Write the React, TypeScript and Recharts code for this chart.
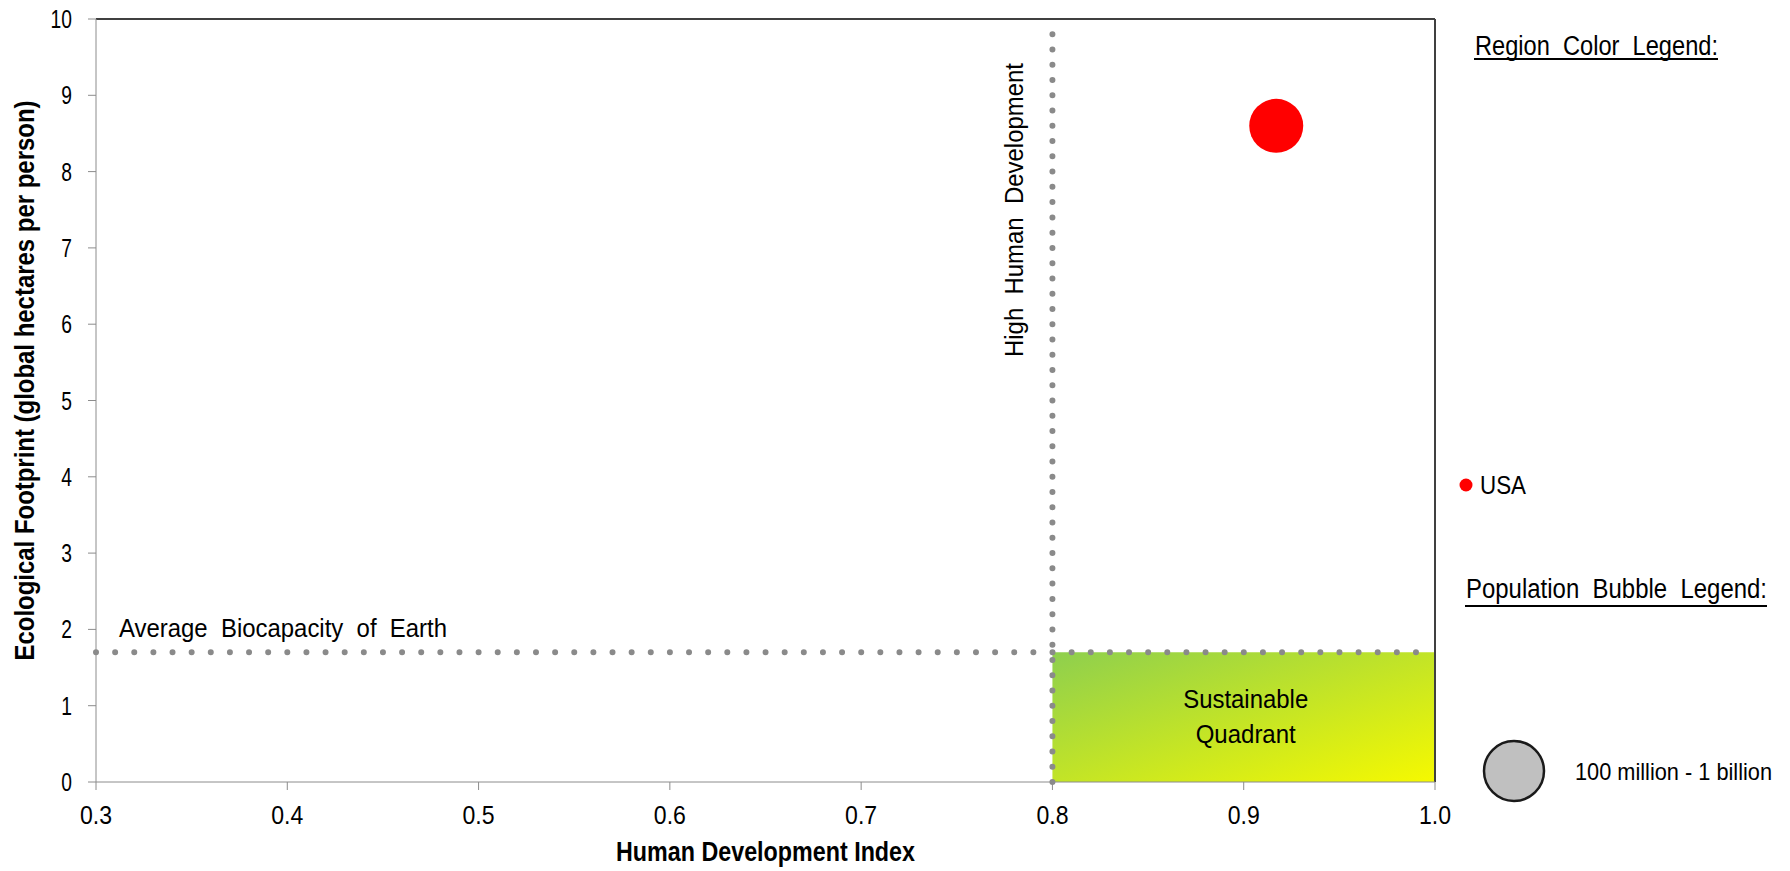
import React from 'react';
import {
  ScatterChart,
  Scatter,
  XAxis,
  YAxis,
  ZAxis,
  Cell,
  Label,
  ReferenceLine,
  ReferenceArea,
} from 'recharts';

// data
const regions = ['USA'];
const hdi = [0.917];
const footprint = [8.6];
const population = [0.31]; // billions
const regionColors = ['#ff0000'];

const xTicks = [0.3, 0.4, 0.5, 0.6, 0.7, 0.8, 0.9, 1.0];
const yTicks = [0, 1, 2, 3, 4, 5, 6, 7, 8, 9, 10];
const highDevelopment = 0.8;
const biocapacity = 1.7;
const xMax = 1.0;
const yMax = 10;

// no narrow font installed, so text is squeezed with textLength
const FONT = '"Liberation Sans", Arial, sans-serif';
const GRID = '#8c8c8c';
const BORDER = '#404040';
const DOTS = '#8a8a8a';
const SQUEEZE = 'spacingAndGlyphs';

const points = regions.map((name, i) => ({
  name,
  x: hdi[i],
  y: footprint[i],
  z: population[i],
}));

const YTitle = ({ viewBox }: any) => {
  const cx = viewBox.x + 25;
  const cy = viewBox.y + viewBox.height / 2 - 20;
  return (
    <text
      x={cx}
      y={cy}
      transform={`rotate(-90, ${cx}, ${cy})`}
      textAnchor="middle"
      dominantBaseline="central"
      fontFamily={FONT}
      fontWeight="bold"
      fontSize={27}
      textLength={560}
      lengthAdjust={SQUEEZE}
      fill="#000"
    >
      Ecological Footprint (global hectares per person)
    </text>
  );
};

const XTitle = ({ viewBox }: any) => (
  <text
    x={viewBox.x + viewBox.width / 2}
    y={viewBox.y + 70}
    textAnchor="middle"
    dominantBaseline="central"
    fontFamily={FONT}
    fontWeight="bold"
    fontSize={27}
    textLength={299}
    lengthAdjust={SQUEEZE}
    fill="#000"
  >
    Human Development Index
  </text>
);

const HighDevLabel = ({ viewBox }: any) => {
  const x = viewBox.x - 38;
  const y = viewBox.y + 44;
  return (
    <text
      x={x}
      y={y}
      transform={`rotate(-90, ${x}, ${y})`}
      textAnchor="end"
      dominantBaseline="central"
      fontFamily={FONT}
      fontSize={26}
      textLength={294}
      lengthAdjust={SQUEEZE}
      style={{ whiteSpace: 'pre' }}
      fill="#000"
    >
      High  Human  Development
    </text>
  );
};

const BiocapLabel = ({ viewBox }: any) => (
  <text
    x={viewBox.x + 23}
    y={viewBox.y - 24}
    dominantBaseline="central"
    fontFamily={FONT}
    fontSize={26}
    textLength={328}
    lengthAdjust={SQUEEZE}
    style={{ whiteSpace: 'pre' }}
    fill="#000"
  >
    Average  Biocapacity  of  Earth
  </text>
);

const QuadrantLabel = ({ viewBox }: any) => {
  const cx = viewBox.x + viewBox.width / 2 + 2;
  const cy = viewBox.y + viewBox.height / 2;
  return (
    <g fontFamily={FONT} fontSize={26} fill="#000">
      <text x={cx} y={cy - 18} textAnchor="middle" dominantBaseline="central" textLength={125} lengthAdjust={SQUEEZE}>
        Sustainable
      </text>
      <text x={cx} y={cy + 17} textAnchor="middle" dominantBaseline="central" textLength={100} lengthAdjust={SQUEEZE}>
        Quadrant
      </text>
    </g>
  );
};

const AxisTick = ({ x, y, payload, anchor, fmt }: any) => (
  <text
    x={x}
    y={y}
    textAnchor={anchor}
    dominantBaseline="central"
    fontFamily={FONT}
    fontSize={25}
    fill="#000"
    textLength={fmt(payload.value).length * 10.7}
    lengthAdjust={SQUEEZE}
  >
    {fmt(payload.value)}
  </text>
);

const Legends = () => (
  <svg
    width={1790}
    height={871}
    style={{ position: 'absolute', left: 0, top: 0, pointerEvents: 'none' }}
    fontFamily={FONT}
  >
    <text x={1475} y={55} fontSize={27} fill="#000" textLength={243} lengthAdjust={SQUEEZE} style={{ whiteSpace: 'pre' }}>
      Region  Color  Legend:
    </text>
    <line x1={1474} x2={1718} y1={59} y2={59} stroke="#000" strokeWidth={2} />

    {regions.map((name, i) => (
      <g key={name}>
        <circle cx={1466} cy={485 + i * 40} r={6.5} fill={regionColors[i]} />
        <text x={1480} y={485 + i * 40} dominantBaseline="central" fontSize={26} fill="#000" textLength={46} lengthAdjust={SQUEEZE}>
          {name}
        </text>
      </g>
    ))}

    <text x={1466} y={598} fontSize={27} fill="#000" textLength={301} lengthAdjust={SQUEEZE} style={{ whiteSpace: 'pre' }}>
      Population  Bubble  Legend:
    </text>
    <line x1={1465} x2={1767} y1={606} y2={606} stroke="#000" strokeWidth={2} />

    <circle cx={1514} cy={771} r={30} fill="#c0c0c0" stroke="#1a1a1a" strokeWidth={2.5} />
    <text x={1575} y={771} dominantBaseline="central" fontSize={24} fill="#000" textLength={197} lengthAdjust={SQUEEZE}>
      100 million - 1 billion
    </text>
  </svg>
);

export default function App() {
  return (
    <div style={{ position: 'absolute', left: 0, top: 0, width: 1790, height: 871, background: '#fff' }}>
      <svg width={0} height={0} style={{ position: 'absolute' }}>
        <defs>
          <linearGradient id="sustainGrad" x1="0" y1="0" x2="1" y2="1">
            <stop offset="0" stopColor="#8ecf4e" />
            <stop offset="1" stopColor="#f6f900" />
          </linearGradient>
        </defs>
      </svg>
      <ScatterChart width={1790} height={871} margin={{ top: 19, right: 355, bottom: 0, left: 0 }}>
        <XAxis
          type="number"
          dataKey="x"
          domain={[0.3, xMax]}
          ticks={xTicks}
          allowDataOverflow
          height={89}
          tickSize={8}
          tickMargin={25}
          stroke={GRID}
          tick={<AxisTick anchor="middle" fmt={(v: number) => v.toFixed(1)} />}
        >
          <Label content={XTitle} />
        </XAxis>
        <YAxis
          type="number"
          dataKey="y"
          domain={[0, yMax]}
          ticks={yTicks}
          allowDataOverflow
          width={96}
          tickSize={8}
          tickMargin={16}
          stroke={GRID}
          tick={<AxisTick anchor="end" fmt={(v: number) => String(v)} />}
        >
          <Label content={YTitle} />
        </YAxis>
        <ZAxis dataKey="z" range={[2290, 2290]} />
        <ReferenceArea
          x1={highDevelopment}
          x2={xMax}
          y1={0}
          y2={biocapacity}
          fill="url(#sustainGrad)"
          fillOpacity={1}
          stroke="none"
          label={<QuadrantLabel />}
        />
        <ReferenceLine y={yMax} stroke={BORDER} strokeWidth={2} />
        <ReferenceLine x={xMax} stroke={BORDER} strokeWidth={2} />
        <ReferenceLine
          y={biocapacity}
          stroke={DOTS}
          strokeWidth={6}
          strokeDasharray="0 19.13"
          strokeLinecap="round"
          label={<BiocapLabel />}
        />
        <ReferenceLine
          x={highDevelopment}
          stroke={DOTS}
          strokeWidth={6}
          strokeDasharray="0 15.26"
          strokeLinecap="round"
          label={<HighDevLabel />}
        />
        <Scatter data={points} isAnimationActive={false}>
          {points.map((p, i) => (
            <Cell key={p.name} fill={regionColors[i]} />
          ))}
        </Scatter>
      </ScatterChart>
      <Legends />
    </div>
  );
}
